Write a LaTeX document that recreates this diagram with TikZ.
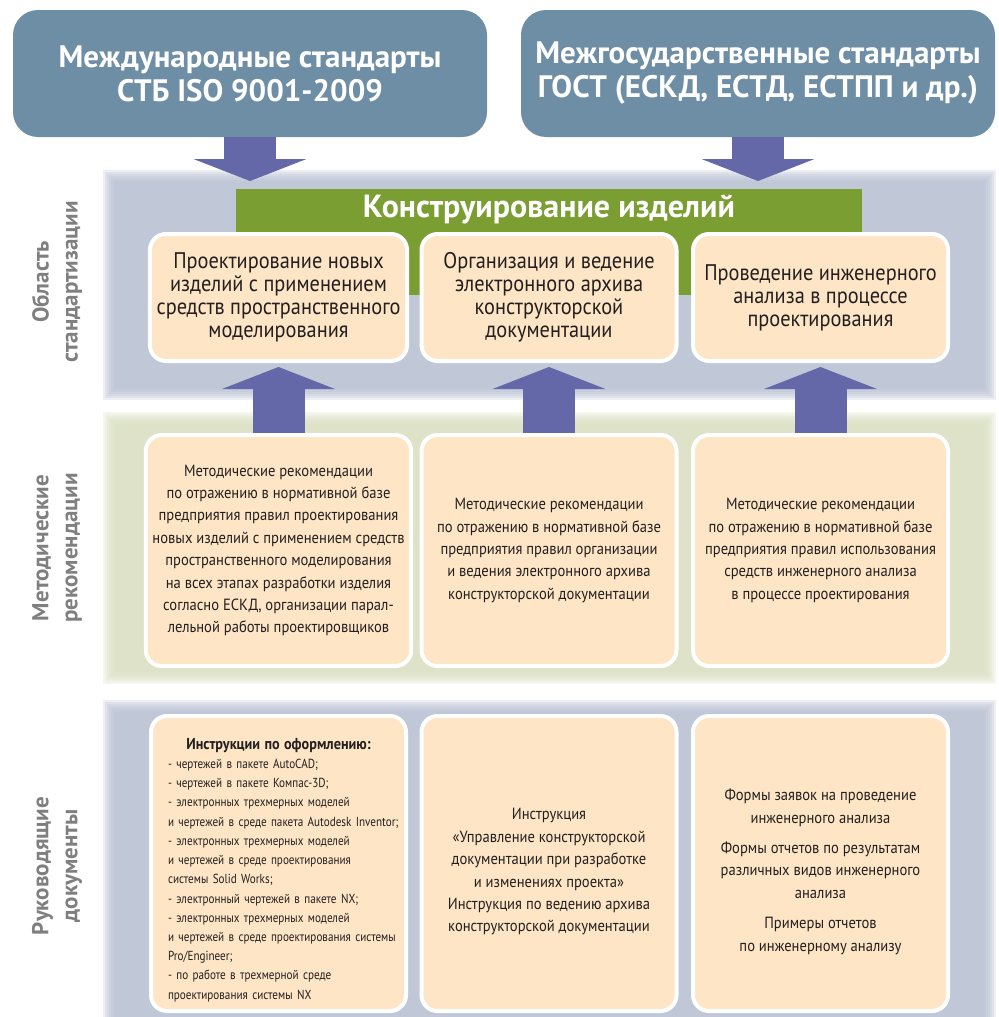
\documentclass[tikz,border=0pt]{standalone}
\usepackage{fontspec}
\setmainfont{PT Sans}
\newfontfamily\condfont{PT Sans}[FakeStretch=0.9]
\newfontfamily\narrowfont{PT Sans}[FakeStretch=0.85]
\usetikzlibrary{arrows.meta}

\definecolor{stdblue}{HTML}{6E8EA6}
\definecolor{arrowblue}{HTML}{6467A8}
\definecolor{bandblue}{HTML}{B6BED0}
\definecolor{bandgreen}{HTML}{D8DEC0}
\definecolor{designgreen}{HTML}{7A9E31}
\definecolor{boxpeach}{HTML}{FDE5C5}
\definecolor{labelgray}{HTML}{7F7F7F}
\definecolor{textdark}{HTML}{231F20}

\newcommand\fntHead{\bfseries\fontsize{15.5}{17}\selectfont}
\newcommand\fntTask{\condfont\fontsize{11.3}{11.5}\selectfont}
\newcommand\fntRec{\condfont\fontsize{8.1}{11.2}\selectfont}
\newcommand\fntItem{\narrowfont\fontsize{6.55}{9.6}\selectfont}

\tikzset{
  stdbox/.style={fill=stdblue, rounded corners=12.5pt, minimum width=237pt,
    minimum height=63.5pt, text=white, align=center, font=\fntHead},
  taskbox/.style={fill=boxpeach, draw=white, line width=2pt, rounded corners=8pt,
    minimum width=127.5pt, align=center, text=textdark},
  fatarrow/.style={draw=arrowblue, line width=26pt,
    -{Triangle[width=56.5pt, length=11pt, line width=0pt]}},
  zonelabel/.style={rotate=90, text=labelgray, align=center,
    font=\bfseries\fontsize{11.5}{14.5}\selectfont},
}

\begin{document}
\begin{tikzpicture}[x=0.5pt, y=-0.5pt]
    \useasboundingbox (0,0) rectangle (999,1017);
    \clip (0,0) rectangle (999,1017);

    % soft background zones
    \foreach \top/\bot/\col in {170/400/bandblue, 412/684/bandgreen, 700/1040/bandblue}
      \foreach \d in {0,2,...,12}
        \fill[\col, opacity=.25] (103+\d,\top+\d) rectangle (996-\d,\bot-\d);

    % zone labels (left)
    \node[zonelabel] (lblstd) at (57,282) {Область\\стандартизации};
    \node[zonelabel] (lblrec) at (57,548) {Методические\\рекомендации};
    \node[zonelabel] (lbldoc) at (57,866) {Руководящие\\документы};

    % standards (top)
    \node[stdbox] (intl) at (250,73.5) {Международные стандарты\\СТБ ISO 9001-2009};
    \node[stdbox] (gost) at (758,73.5) {Межгосударственные стандарты\\ГОСТ (ЕСКД, ЕСТД, ЕСТПП и др.)};
    \coordinate (intlTip) at (250,181);
    \coordinate (gostTip) at (758,181);
    \draw[fatarrow] (intl.south) -- (intlTip);
    \draw[fatarrow] (gost.south) -- (gostTip);

    % design band
    \node[fill=designgreen, minimum width=313pt, minimum height=53pt] (design) at (549,242) {};
    \node[text=white, font=\bfseries\fontsize{16}{17}\selectfont] (designTitle) at (549,210) {Конструирование изделий};

    % row 1: tasks
    \node[taskbox, minimum height=63.5pt, font=\fntTask] (p1) at (278.5,297.5)
      {Проектирование новых\\изделий с применением\\средств пространственного\\моделирования};
    \node[taskbox, minimum height=63.5pt, font=\fntTask] (p2) at (549,297.5)
      {Организация и ведение\\электронного архива\\конструкторской\\документации};
    \node[taskbox, minimum height=63.5pt, font=\fntTask] (p3) at (820.5,297.5)
      {Проведение инженерного\\анализа в процессе\\проектирования};

    % row 2: recommendations
    \node[taskbox, minimum height=115.5pt, font=\fntRec] (m1) at (278.5,550.5)
      {Методические рекомендации\\по отражению в нормативной базе\\предприятия правил проектирования\\новых изделий с применением средств\\пространственного моделирования\\на всех этапах разработки изделия\\согласно ЕСКД, организации парал-\\лельной работы проектировщиков};
    \node[taskbox, minimum height=115.5pt, font=\fntRec] (m2) at (549,550.5)
      {Методические рекомендации\\по отражению в нормативной базе\\предприятия правил организации\\и ведения электронного архива\\конструкторской документации};
    \node[taskbox, minimum height=115.5pt, font=\fntRec] (m3) at (820.5,550.5)
      {Методические рекомендации\\по отражению в нормативной базе\\предприятия правил использования\\средств инженерного анализа\\в процессе проектирования};

    % row 3: guiding documents
    \node[taskbox, minimum height=147.5pt, text width=123pt, inner xsep=2.25pt, align=left, font=\fntItem] (d1) at (278.5,863.5)
      {\leftskip=6.25pt
       {\condfont\bfseries\fontsize{7.9}{9.6}\selectfont\rule{0pt}{12pt}\hspace*{-6.25pt}\hfill Инструкции по оформлению:\hfill\null}\\
       - чертежей в пакете AutoCAD;\\
       - чертежей в пакете Компас-3D;\\
       - электронных трехмерных моделей\\
       и чертежей в среде пакета Autodesk Inventor;\\
       - электронных трехмерных моделей\\
       и чертежей в среде проектирования\\
       системы Solid Works;\\
       - электронный чертежей в пакете NX;\\
       - электронных трехмерных моделей\\
       и чертежей в среде проектирования системы\\
       Pro/Engineer;\\
       - по работе в трехмерной среде\\
       проектирования системы NX\par};
    \node[taskbox, minimum height=147.5pt, font=\fntRec] (d2) at (549,863.5)
      {\rule{0pt}{14pt}Инструкция\\«Управление конструкторской\\документации при разработке\\и изменениях проекта»\\Инструкция по ведению архива\\конструкторской документации};
    \node[taskbox, minimum height=147.5pt, font=\fntRec] (d3) at (820.5,863.5)
      {\rule{0pt}{14pt}Формы заявок на проведение\\инженерного анализа\\[4pt]Формы отчетов по результатам\\различных видов инженерного\\анализа\\[4pt]Примеры отчетов\\по инженерному анализу};

    % recommendations feed the design tasks
    \foreach \i in {1,2,3}
      \draw[fatarrow, shorten >=2pt] (m\i.north) -- (p\i.south);
\end{tikzpicture}
\end{document}
